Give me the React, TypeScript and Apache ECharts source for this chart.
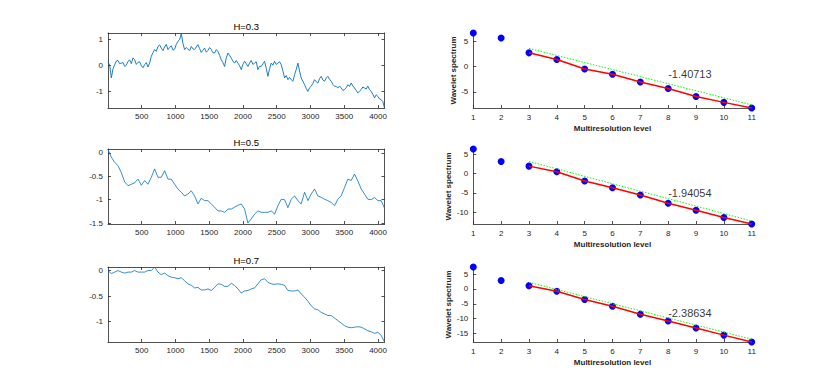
import React, { useEffect, useRef } from 'react';
import * as echarts from 'echarts';

const titles = ['H=0.3', 'H=0.5', 'H=0.7'];
const signalLength = 4096;

// fBm-like signals (evenly spaced over 1..4096)
const signalH03 = [
  0.15, 0.02, -0.47, -0.12, 0.04, 0.18, 0.2, 0.08, 0.1, 0.12, -0.03, 0.02, 0.17, 0.22, 0.08, 0.3, 0.23, 0.05, 0.13, 0.15,
  0, -0.08, 0.04, 0.12, -0.05, 0.1, 0.36, 0.5, 0.62, 0.55, 0.74, 0.8, 0.68, 0.58, 0.72, 0.82, 0.62, 0.7, 0.77, 0.6,
  0.64, 0.82, 0.94, 1.0, 1.24, 0.85, 0.62, 0.7, 0.64, 0.58, 0.74, 0.65, 0.62, 0.72, 0.81, 0.66, 0.51, 0.6, 0.68, 0.52,
  0.59, 0.7, 0.62, 0.5, 0.49, 0.62, 0.55, 0.4, 0.23, 0.12, -0.03, 0.3, 0.49, 0.4, 0.29, 0.18, 0.1, 0.2, 0.1, 0.0,
  -0.15, 0.05, 0.17, 0.08, -0.03, 0.1, 0.2, 0.05, 0.1, 0.15, -0.15, -0.02, -0.03, 0.08, 0.17, -0.1, -0.41, -0.12, 0.1, 0.02,
  0.17, 0.05, 0.1, 0.15, 0.04, -0.2, -0.47, -0.38, -0.54, -0.45, -0.54, -0.6, -0.35, -0.15, 0.1, -0.2, -0.47, -0.6, -0.73, -0.88,
  -0.99, -0.85, -0.79, -0.68, -0.54, -0.62, -0.67, -0.5, -0.41, -0.55, -0.6, -0.48, -0.41, -0.52, -0.6, -0.72, -0.79, -0.8, -0.86, -0.78,
  -0.86, -0.95, -0.92, -0.85, -0.73, -0.8, -0.67, -0.78, -0.86, -0.95, -1.05, -0.98, -0.92, -0.82, -0.86, -0.9, -0.79, -0.92, -0.99, -1.1,
  -1.24, -1.12, -1.18, -1.28, -1.31, -1.38, -1.63,
];
const signalH05 = [
  0.07, -0.09, -0.2, -0.27, -0.42, -0.62, -0.7, -0.67, -0.64, -0.56, -0.69, -0.59, -0.67, -0.52, -0.34, -0.52, -0.52, -0.38, -0.56, -0.56,
  -0.67, -0.77, -0.84, -0.92, -0.88, -0.81, -0.92, -1.09, -0.97, -1.02, -1.02, -1.09, -1.16, -1.24, -1.24, -1.27, -1.2, -1.2, -1.16, -1.12,
  -1.09, -1.2, -1.5, -1.41, -1.31, -1.24, -1.27, -1.27, -1.27, -1.24, -1.31, -1.13, -0.99, -1.0, -1.17, -0.99, -0.92, -1.02, -1.09, -0.84,
  -1.02, -0.88, -0.77, -0.92, -0.95, -0.99, -1.02, -1.06, -1.13, -0.99, -0.92, -0.74, -0.56, -0.59, -0.45, -0.6, -0.77, -0.88, -0.99, -1.0,
  -0.95, -1.02, -1.02, -1.18,
];
const signalH07 = [
  0.0, -0.06, -0.03, 0, -0.03, -0.05, -0.03, -0.03, 0, -0.03, -0.03, -0.03, 0, 0, 0.07, -0.03, -0.08, -0.05, -0.1, -0.13,
  -0.14, -0.16, -0.14, -0.2, -0.26, -0.29, -0.34, -0.33, -0.38, -0.38, -0.36, -0.39, -0.33, -0.26, -0.27, -0.31, -0.31, -0.25, -0.29, -0.36,
  -0.44, -0.4, -0.39, -0.36, -0.34, -0.26, -0.18, -0.16, -0.23, -0.26, -0.27, -0.26, -0.27, -0.29, -0.39, -0.4, -0.4, -0.38, -0.46, -0.52,
  -0.6, -0.69, -0.75, -0.77, -0.82, -0.85, -0.88, -0.88, -0.93, -0.98, -1.03, -1.08, -1.11, -1.12, -1.11, -1.1, -1.11, -1.14, -1.18, -1.2,
  -1.23, -1.21, -1.27, -1.4,
];
const signals = [signalH03, signalH05, signalH07];
const timeTicks = [500, 1000, 1500, 2000, 2500, 3000, 3500, 4000];
const signalYTicks = [[-1, 0, 1], [-1.5, -1, -0.5, 0], [-1, -0.5, 0]];
const signalYRange = [[-1.63, 1.26], [-1.52, 0.085], [-1.4, 0.07]];

// Wavelet spectra
const levels = [1, 2, 3, 4, 5, 6, 7, 8, 9, 10, 11];
const spectrumH03 = [6.71, 5.72, 2.76, 1.45, -0.46, -1.51, -3.03, -4.34, -5.92, -7.1, -8.22];
const spectrumH05 = [6.43, 3.17, 1.97, 0.51, -1.89, -3.68, -5.57, -7.71, -9.51, -11.4, -13.1];
const spectrumH07 = [7.36, 2.86, 1.1, -0.77, -3.52, -5.82, -8.46, -10.77, -13.08, -15.49, -17.8];
const spectra = [spectrumH03, spectrumH05, spectrumH07];
const fitSlopes = [-1.40713, -1.94054, -2.38634];
const fitSlopeLabels = ['-1.40713', '-1.94054', '-2.38634'];
const fitLineStart = [3.65, 3.2, 2.2]; // green reference line value at level 3
const fitFromLevel = 3;
const fitToLevel = 11;
const annotationLevel = 8;
const annotationY = [-1.5, -4.9, -8.0];
const spectrumYTicks = [[-5, 0, 5], [-10, -5, 0, 5], [-15, -10, -5, 0, 5]];
const spectrumYRange = [[-8.22, 6.71], [-13.1, 6.43], [-17.8, 7.36]];

const FONT = 'Liberation Sans, Arial, Helvetica, sans-serif';
const AXIS = '#262626';
const plain = (v: number) => String(v);

export default function App() {
  const ref = useRef<HTMLDivElement>(null);
  useEffect(() => {
    document.body.style.margin = '0';
    const chart = echarts.init(ref.current!, null, { renderer: 'svg' });
    const rowTop = [33, 149, 267];
    const rowH = 75;
    const leftX = 108;
    const leftW = 276.5;
    const rightX = 473.3;
    const rightW = 278.4;

    const grids: any[] = [];
    const xAxes: any[] = [];
    const yAxes: any[] = [];
    const series: any[] = [];
    const graphics: any[] = [];

    const lineStyle = { color: AXIS, width: 0.8 };
    const labelStyle = { fontFamily: FONT, fontSize: 8, color: AXIS, formatter: plain };

    for (let r = 0; r < 3; r++) {
      grids.push({ left: leftX, top: rowTop[r], width: leftW, height: rowH });
      grids.push({ left: rightX, top: rowTop[r], width: rightW, height: rowH });
      const gL = 2 * r;
      const gR = 2 * r + 1;
      xAxes.push({
        gridIndex: gL, type: 'value', min: 1, max: signalLength, position: 'bottom',
        axisLine: { show: true, onZero: false, lineStyle },
        axisTick: { show: true, inside: true, length: 3, customValues: timeTicks, lineStyle },
        axisLabel: { ...labelStyle, margin: 4, customValues: timeTicks },
        splitLine: { show: false },
      });
      xAxes.push({
        gridIndex: gL, type: 'value', min: 1, max: signalLength, position: 'top',
        axisLine: { show: true, onZero: false, lineStyle },
        axisTick: { show: true, inside: true, length: 3, customValues: timeTicks, lineStyle },
        axisLabel: { show: false },
        splitLine: { show: false },
      });
      xAxes.push({
        gridIndex: gR, type: 'value', min: 1, max: 11, interval: 1, position: 'bottom',
        axisLine: { show: true, onZero: false, lineStyle },
        axisTick: { show: true, inside: true, length: 3, lineStyle },
        axisLabel: { ...labelStyle, margin: 5 },
        splitLine: { show: false },
        name: 'Multiresolution level', nameLocation: 'middle', nameGap: 16,
        nameTextStyle: { fontFamily: FONT, fontSize: 8, fontWeight: 'bold', color: AXIS },
      });
      yAxes.push({
        gridIndex: gL, type: 'value', min: signalYRange[r][0], max: signalYRange[r][1], position: 'left',
        axisLine: { show: true, onZero: false, lineStyle },
        axisTick: { show: true, inside: true, length: 3, customValues: signalYTicks[r], lineStyle },
        axisLabel: { ...labelStyle, margin: 5, customValues: signalYTicks[r] },
        splitLine: { show: false },
      });
      yAxes.push({
        gridIndex: gL, type: 'value', min: signalYRange[r][0], max: signalYRange[r][1], position: 'right',
        axisLine: { show: true, onZero: false, lineStyle },
        axisTick: { show: true, inside: true, length: 3, customValues: signalYTicks[r], lineStyle },
        axisLabel: { show: false },
        splitLine: { show: false },
      });
      yAxes.push({
        gridIndex: gR, type: 'value', min: spectrumYRange[r][0], max: spectrumYRange[r][1], position: 'left',
        axisLine: { show: true, onZero: false, lineStyle },
        axisTick: { show: true, inside: true, length: 3, customValues: spectrumYTicks[r], lineStyle },
        axisLabel: { ...labelStyle, margin: 5, customValues: spectrumYTicks[r] },
        splitLine: { show: false },
        name: 'Wavelet spectrum', nameLocation: 'middle', nameGap: 15, nameRotate: 90,
        nameTextStyle: { fontFamily: FONT, fontSize: 8, fontWeight: 'bold', color: AXIS },
      });

      const sig = signals[r];
      const step = (signalLength - 1) / (sig.length - 1);
      series.push({
        type: 'line', xAxisIndex: 3 * r, yAxisIndex: 3 * r, showSymbol: false, symbol: 'none',
        data: sig.map((v, i) => [1 + i * step, v]),
        lineStyle: { color: '#0072BD', width: r === 0 ? 0.9 : 0.8 },
        silent: true,
      });

      const spec = spectra[r];
      series.push({
        type: 'scatter', xAxisIndex: 3 * r + 2, yAxisIndex: 3 * r + 2, clip: false,
        data: levels.map((l, i) => [l, spec[i]]),
        symbolSize: 7, itemStyle: { color: '#0000FF', opacity: 1 },
      });
      series.push({
        type: 'line', xAxisIndex: 3 * r + 2, yAxisIndex: 3 * r + 2, symbol: 'none', clip: false,
        data: levels.filter((l) => l >= fitFromLevel).map((l) => [l, spec[l - 1]]),
        lineStyle: { color: '#FF0000', width: 1.5 },
      });
      series.push({
        type: 'line', xAxisIndex: 3 * r + 2, yAxisIndex: 3 * r + 2, symbol: 'none', clip: false,
        data: [
          [fitFromLevel, fitLineStart[r]],
          [fitToLevel, fitLineStart[r] + (fitToLevel - fitFromLevel) * fitSlopes[r]],
        ],
        lineStyle: { color: '#00FF00', width: 1, type: [1.5, 1.5] },
      });
      series.push({
        type: 'scatter', xAxisIndex: 3 * r + 2, yAxisIndex: 3 * r + 2, clip: false,
        data: [[annotationLevel, annotationY[r]]],
        symbolSize: 0, itemStyle: { color: 'rgba(0,0,0,0)' },
        label: {
          show: true, position: 'right', distance: 0, formatter: fitSlopeLabels[r],
          fontFamily: FONT, fontSize: 11, color: '#000',
        },
      });

      graphics.push({
        type: 'text', x: leftX + leftW / 2, y: rowTop[r] - 7,
        style: { text: titles[r], fontFamily: FONT, fontSize: 9.5, fontWeight: 'normal', fill: '#000', align: 'center', verticalAlign: 'middle' },
      });
    }

    chart.setOption({
      animation: false,
      backgroundColor: '#fff',
      grid: grids,
      xAxis: xAxes,
      yAxis: yAxes,
      series,
      graphic: graphics,
    });
    return () => chart.dispose();
  }, []);
  return <div ref={ref} style={{ width: 830, height: 390 }} />;
}
